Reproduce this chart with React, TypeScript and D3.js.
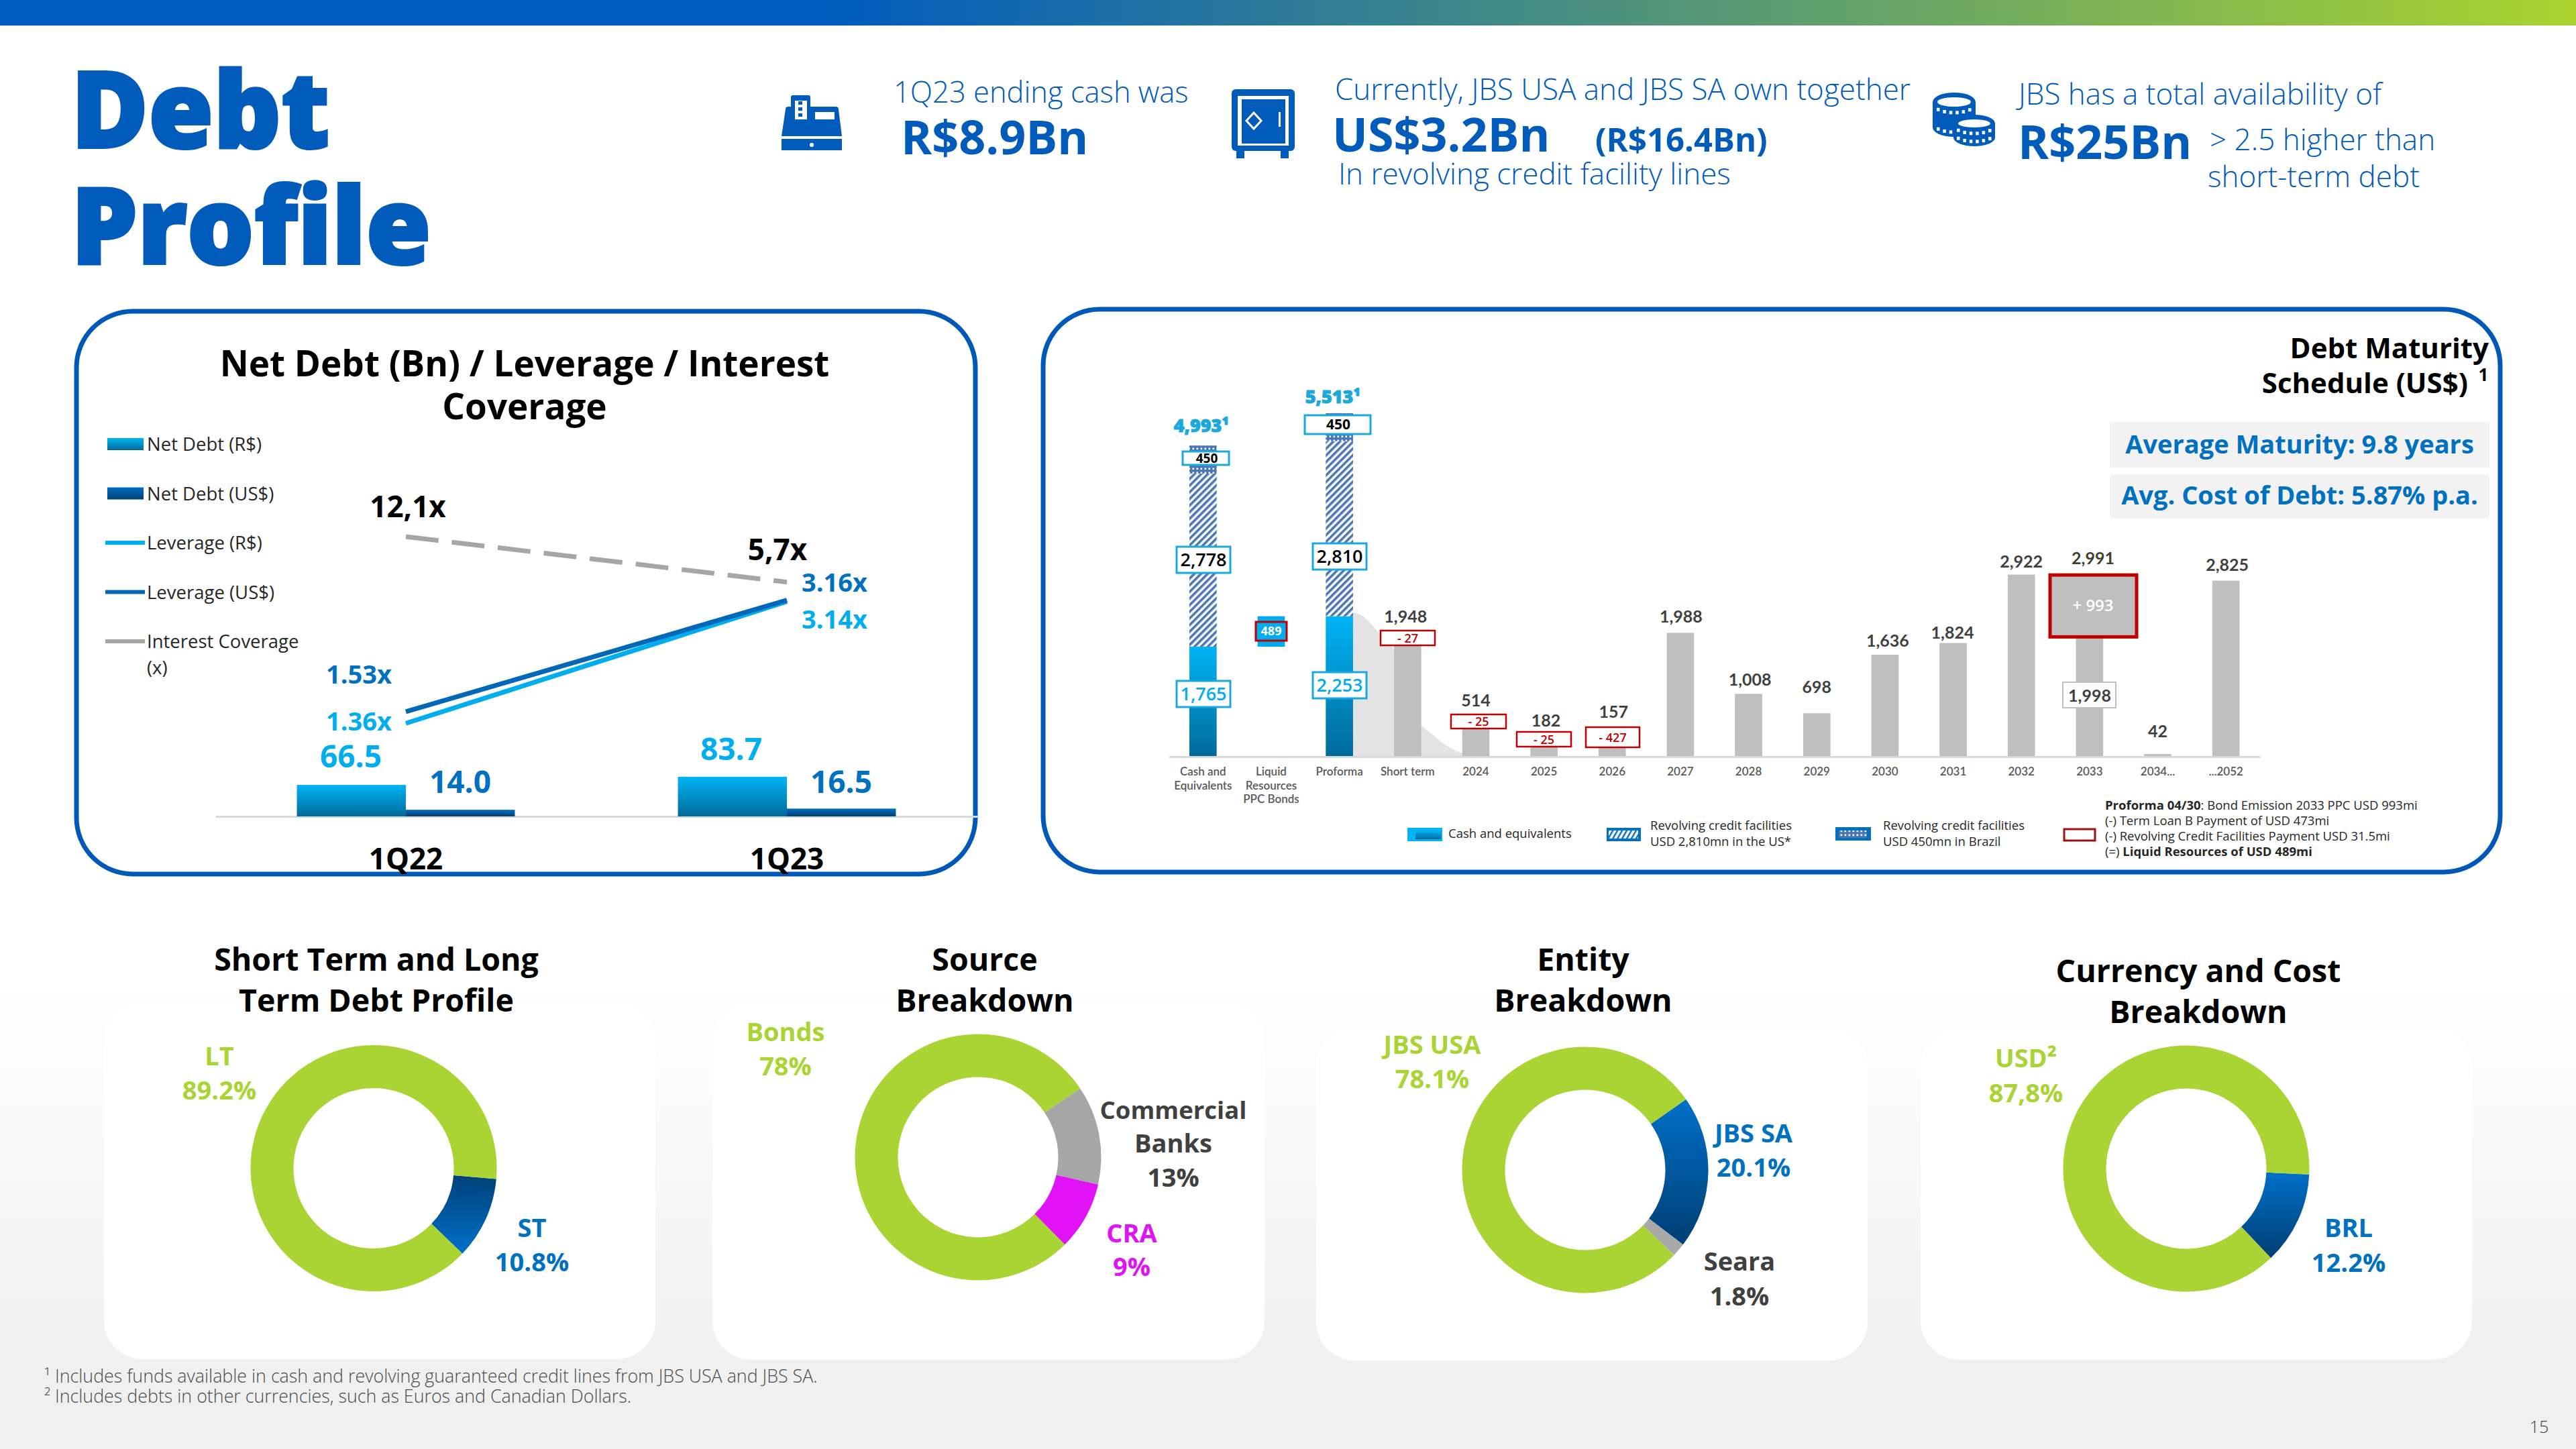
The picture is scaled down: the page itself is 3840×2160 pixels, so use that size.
import * as d3 from "d3";
import { useEffect, useRef } from "react";

// net debt panel
const quarters = ["1Q22", "1Q23"];
const netDebtBrl = [66.5, 83.7];
const netDebtUsd = [14.0, 16.5];
const leverageBrl = [1.36, 3.14];
const leverageUsd = [1.53, 3.16];
const interestCoverage = [12.1, 5.7];
const netDebtLegend = ["Net Debt (R$)", "Net Debt (US$)", "Leverage (R$)", "Leverage (US$)", "Interest Coverage"];

// maturity panel
const maturityCategories = [
    "Cash and\nEquivalents", "Liquid\nResources\nPPC Bonds", "Proforma", "Short term", "2024", "2025", "2026",
    "2027", "2028", "2029", "2030", "2031", "2032", "2033", "2034...", "...2052",
];
const liquidityColumns = ["Cash and\nEquivalents", "Proforma"];
const cashValues = [1765, 2253];
const usRevolverValues = [2778, 2810];
const brRevolverValues = [450, 450];
const liquidityTotals = ["4,993¹", "5,513¹"];
const liquidResources = 489;
const scheduleCategories = ["Short term", "2024", "2025", "2026", "2027", "2028", "2029", "2030", "2031", "2032", "2033", "2034...", "...2052"];
const scheduleValues = [1948, 514, 182, 157, 1988, 1008, 698, 1636, 1824, 2922, 1998, 42, 2825];
const bondEmission = 993;
const adjustments = [-27, -25, -25, -427];
// outline of the grey wedge behind the proforma column: distance in bands from Proforma, value
const wedgeSteps = [0.2, 0.35, 0.64, 0.8, 1.0, 1.4, 1.9, 2.25];
const wedgeValues = [2314, 2250, 1905, 1711, 850, 323, 32, 0];

// donuts
const termLabels = ["ST", "LT"];
const termValues = [10.8, 89.2];
const sourceLabels = ["Commercial Banks", "CRA", "Bonds"];
const sourceValues = [13, 9, 78];
const entityLabels = ["JBS SA", "Seara", "JBS USA"];
const entityValues = [20.1, 1.8, 78.1];
const currencyLabels = ["BRL", "USD"];
const currencyValues = [12.2, 87.8];

const SANS = "'Open Sans', sans-serif";
const LATO = "Lato, sans-serif";
const BLUE = "#005BBB";
const MID_BLUE = "#0070C0";
const CYAN = "#00AEEF";
const GREEN = "#AAD334";
const RED = "#C00000";
const GREY_TEXT = "#404040";

type Sel = d3.Selection<any, unknown, any, any>;

const addText = (
    parent: Sel, str: string, x: number, y: number, size: number, weight: number, color: string,
    anchor = "middle", family = SANS
) => parent.append("text")
    .attr("x", x)
    .attr("y", y)
    .attr("font-size", size)
    .attr("font-weight", weight)
    .attr("font-family", family)
    .attr("fill", color)
    .attr("text-anchor", anchor)
    .text(str);

const addGradient = (defs: Sel, id: string, top: string, bottom: string) => {
    const g = defs.append("linearGradient").attr("id", id).attr("x1", 0).attr("y1", 0).attr("x2", 0).attr("y2", 1);
    g.append("stop").attr("offset", "0%").attr("stop-color", top);
    g.append("stop").attr("offset", "100%").attr("stop-color", bottom);
};

const setDefs = (svg: Sel) => {
    const defs = svg.append("defs");
    addGradient(defs, "cash", "#00B4F5", "#006A9A");
    addGradient(defs, "usd", "#0070C0", "#003F75");
    addGradient(defs, "navyUp", "#00407A", "#0070C8");
    addGradient(defs, "navyDown", "#0070C8", "#003E73");
    addGradient(defs, "page", "#FFFFFF", "#F0F0F0");

    const bar = defs.append("linearGradient").attr("id", "topbar");
    bar.append("stop").attr("offset", "32%").attr("stop-color", "#005BBE");
    bar.append("stop").attr("offset", "100%").attr("stop-color", "#AAD32F");

    const hatch = defs.append("pattern").attr("id", "hatch").attr("width", 7).attr("height", 7)
        .attr("patternUnits", "userSpaceOnUse").attr("patternTransform", "rotate(45)");
    hatch.append("rect").attr("width", 7).attr("height", 7).attr("fill", "#FFFFFF");
    hatch.append("rect").attr("width", 3.6).attr("height", 7).attr("fill", "#4A76B3");

    const dots = defs.append("pattern").attr("id", "dots").attr("width", 6).attr("height", 6)
        .attr("patternUnits", "userSpaceOnUse");
    dots.append("rect").attr("width", 6).attr("height", 6).attr("fill", "#4A76B3");
    dots.append("rect").attr("x", 1.5).attr("y", 1.5).attr("width", 2.6).attr("height", 2.6).attr("fill", "#FFFFFF");

    const swatchHatch = defs.append("pattern").attr("id", "swatchHatch").attr("width", 6).attr("height", 6)
        .attr("patternUnits", "userSpaceOnUse").attr("patternTransform", "rotate(30)");
    swatchHatch.append("rect").attr("width", 6).attr("height", 6).attr("fill", "#FFFFFF");
    swatchHatch.append("rect").attr("width", 2.4).attr("height", 6).attr("fill", "#0070C0");
};

const drawPage = (svg: Sel) => {
    svg.append("rect").attr("width", 3840).attr("height", 2160).attr("fill", "#FFFFFF");
    svg.append("rect").attr("y", 1470).attr("width", 3840).attr("height", 570).attr("fill", "url(#page)");
    svg.append("rect").attr("y", 2040).attr("width", 3840).attr("height", 120).attr("fill", "#F0F0F0");
    svg.append("rect").attr("width", 3840).attr("height", 38).attr("fill", "url(#topbar)");

    addText(svg, "Debt", 106, 220, 157, 800, BLUE, "start").attr("stroke", BLUE).attr("stroke-width", 4);
    addText(svg, "Profile", 106, 393, 157, 800, BLUE, "start").attr("stroke", BLUE).attr("stroke-width", 4);
    addText(svg, "15", 3785, 2136, 25, 300, GREY_TEXT);

    addText(svg, "¹ Includes funds available in cash and revolving guaranteed credit lines from JBS USA and JBS SA.", 66, 2061, 26.8, 300, "#4A4A4A", "start");
    addText(svg, "² Includes debts in other currencies, such as Euros and Canadian Dollars.", 66, 2091, 26.8, 300, "#4A4A4A", "start");
};

const drawHeadline = (svg: Sel) => {
    addText(svg, "1Q23 ending cash was", 1332, 153, 43.5, 300, BLUE, "start");
    addText(svg, "R$8.9Bn", 1343, 230, 70, 700, BLUE, "start");
    addText(svg, "Currently, JBS USA and JBS SA own together", 1990, 149, 44, 300, BLUE, "start");
    addText(svg, "US$3.2Bn", 1986, 226, 70, 700, BLUE, "start");
    addText(svg, "(R$16.4Bn)", 2378, 226, 49, 700, BLUE, "start");
    addText(svg, "In revolving credit facility lines", 1995, 275, 44, 300, BLUE, "start");
    addText(svg, "JBS has a total availability of", 3009, 156, 44, 300, BLUE, "start");
    addText(svg, "R$25Bn", 3008, 237, 70, 700, BLUE, "start");
    addText(svg, "> 2.5 higher than", 3294, 224, 44, 300, BLUE, "start");
    addText(svg, "short-term debt", 3291, 279, 44, 300, BLUE, "start");

    // cash register
    const reg = svg.append("g").attr("fill", BLUE);
    reg.append("rect").attr("x", 1179).attr("y", 142).attr("width", 29).attr("height", 36).attr("rx", 3);
    reg.append("path").attr("d", "M1175 159H1246Q1250 159 1250 163L1255 203H1165L1171 163Q1171 159 1175 159Z");
    reg.append("rect").attr("x", 1165).attr("y", 207).attr("width", 90).attr("height", 17);
    reg.append("rect").attr("x", 1185).attr("y", 150).attr("width", 18).attr("height", 28).attr("fill", "#FFFFFF");
    [153, 162, 171].forEach(y => reg.append("rect").attr("x", 1190).attr("y", y - 2).attr("width", 6).attr("height", 5));
    reg.append("rect").attr("x", 1215).attr("y", 167).attr("width", 29).attr("height", 11).attr("fill", "#FFFFFF");
    reg.append("circle").attr("cx", 1210).attr("cy", 216).attr("r", 3).attr("fill", "#FFFFFF");

    // safe
    const safe = svg.append("g").attr("fill", BLUE);
    safe.append("rect").attr("x", 1836).attr("y", 133).attr("width", 94).attr("height", 92).attr("rx", 6);
    safe.append("rect").attr("x", 1843).attr("y", 222).attr("width", 12).attr("height", 14);
    safe.append("rect").attr("x", 1909).attr("y", 222).attr("width", 12).attr("height", 14);
    safe.append("rect").attr("x", 1845).attr("y", 143).attr("width", 76).attr("height", 74).attr("fill", "#FFFFFF");
    safe.append("rect").attr("x", 1851).attr("y", 148).attr("width", 65).attr("height", 66);
    safe.append("path").attr("d", "M1869 168L1880 180L1869 192L1858 180Z").attr("fill", "none").attr("stroke", "#FFFFFF").attr("stroke-width", 3);
    safe.append("rect").attr("x", 1906).attr("y", 167).attr("width", 3).attr("height", 22).attr("fill", "#FFFFFF");

    // coins
    const coins = svg.append("g");
    const stack = (cx: number, cy: number, rx: number, ry: number, depth: number, teeth: number[]) => {
        coins.append("rect").attr("x", cx - rx).attr("y", cy).attr("width", 2 * rx).attr("height", depth).attr("fill", BLUE);
        coins.append("ellipse").attr("cx", cx).attr("cy", cy + depth).attr("rx", rx).attr("ry", ry).attr("fill", BLUE);
        coins.append("ellipse").attr("cx", cx).attr("cy", cy).attr("rx", rx).attr("ry", ry).attr("fill", BLUE);
        coins.append("ellipse").attr("cx", cx).attr("cy", cy).attr("rx", rx - 7).attr("ry", ry - 7).attr("fill", "#FFFFFF");
        teeth.forEach(off => d3.range(-24, 25, 9.4).forEach(dx => coins.append("rect")
            .attr("x", cx + dx - 2)
            .attr("y", cy + off + ry * Math.sqrt(1 - (dx / rx) ** 2) - 2.5)
            .attr("width", 4.5)
            .attr("height", 5)
            .attr("fill", "#FFFFFF")));
    };
    stack(2913, 152, 32, 14, 38, [2, 31]);
    stack(2943, 184, 31, 13, 21, [2, 14]);
};

const drawPanel = (svg: Sel, x: number, y: number, w: number, h: number) => svg.append("rect")
    .attr("x", x).attr("y", y).attr("width", w).attr("height", h).attr("rx", 84)
    .attr("fill", "#FFFFFF").attr("stroke", "#0059B8").attr("stroke-width", 7);

const drawNetDebt = (svg: Sel) => {
    drawPanel(svg, 114, 464, 1340, 839);
    addText(svg, "Net Debt (Bn) / Leverage / Interest", 782, 561, 53, 700, "#000000");
    addText(svg, "Coverage", 782, 625, 53, 700, "#000000");

    const baseline = 1217;
    const x = d3.scaleBand().domain(quarters).range([321, 1457]).paddingInner(0.428).paddingOuter(0.214);
    const xSeries = d3.scaleBand().domain(["brl", "usd"]).range([0, x.bandwidth()]);
    const yDebt = d3.scaleLinear().domain([0, 100]).range([baseline, baseline - 70.6]);
    const yLeverage = d3.scaleLinear().domain([0, 4]).range([baseline, baseline - 408]);
    const yCoverage = d3.scaleLinear().domain([0, 12.1]).range([928, 800]);
    const center = (q: string) => (x(q) as number) + x.bandwidth() / 2;

    const axis = svg.append("g")
        .attr("transform", `translate(0,${baseline})`)
        .call(d3.axisBottom(x).tickSize(0).tickSizeOuter(0));
    axis.select(".domain").attr("stroke", "#D9D9D9").attr("stroke-width", 3);
    axis.selectAll(".tick text")
        .attr("y", 79).attr("dy", 0)
        .attr("font-size", 44).attr("font-weight", 700).attr("font-family", SANS).attr("fill", "#000000");

    const bars = (values: number[], key: string, fill: string) => svg.append("g")
        .selectAll("rect")
        .data(values)
        .join("rect")
        .attr("x", (_, i) => (x(quarters[i]) as number) + (xSeries(key) as number))
        .attr("y", d => yDebt(d))
        .attr("width", xSeries.bandwidth())
        .attr("height", d => baseline - yDebt(d))
        .attr("fill", fill);
    bars(netDebtBrl, "brl", "url(#cash)");
    bars(netDebtUsd, "usd", "url(#usd)");

    const line = (values: number[], y: d3.ScaleLinear<number, number>, color: string, dash?: string) => {
        const gen = d3.line<number>().x((_, i) => center(quarters[i])).y(d => y(d));
        svg.append("path")
            .attr("d", gen(values))
            .attr("fill", "none")
            .attr("stroke", color)
            .attr("stroke-width", 7)
            .attr("stroke-dasharray", dash ?? null);
    };
    line(interestCoverage, yCoverage, "#A6A6A6", "49 20");
    line(leverageBrl, yLeverage, CYAN);
    line(leverageUsd, yLeverage, "#0067B9");

    // value labels sit by hand around the marks
    const debtFmt = d3.format(".1f");
    const lab1 = [523, 1090];
    const lab2 = [686, 1254];
    const labY1 = [1144, 1133];
    netDebtBrl.forEach((v, i) => addText(svg, debtFmt(v), lab1[i], labY1[i], 46, 700, CYAN));
    netDebtUsd.forEach((v, i) => addText(svg, debtFmt(v), lab2[i], 1182, 46, 700, MID_BLUE));
    const levFmt = d3.format(".2f");
    const levX = [535, 1244];
    const usdY = [1019, 882];
    const brlY = [1089, 937];
    leverageUsd.forEach((v, i) => addText(svg, levFmt(v) + "x", levX[i], usdY[i], 38, 700, MID_BLUE));
    leverageBrl.forEach((v, i) => addText(svg, levFmt(v) + "x", levX[i], brlY[i], 38, 700, CYAN));
    const covX = [608, 1159];
    const covY = [771, 835];
    interestCoverage.forEach((v, i) => addText(svg, debtFmt(v).replace(".", ",") + "x", covX[i], covY[i], 44, 700, "#000000"));

    // legend
    const legendY = d3.scalePoint().domain(netDebtLegend).range([662, 956]);
    netDebtLegend.forEach((name, i) => {
        const cy = legendY(name) as number;
        if (i < 2) {
            svg.append("rect").attr("x", 160).attr("y", cy - 9).attr("width", 54).attr("height", 18)
                .attr("fill", i === 0 ? "url(#cash)" : "url(#usd)");
        } else {
            svg.append("line").attr("x1", 157).attr("x2", 216).attr("y1", cy).attr("y2", cy)
                .attr("stroke-width", 6).attr("stroke", [CYAN, "#0067B9", "#A6A6A6"][i - 2]);
        }
        addText(svg, name, 219, cy + 10, 27.5, 400, "#262626", "start");
    });
    addText(svg, "(x)", 219, 1005, 27.5, 400, "#262626", "start");
};

const drawMaturity = (svg: Sel) => {
    drawPanel(svg, 1555, 461, 2172, 839);

    addText(svg, "Debt Maturity", 3710, 534, 42, 700, "#000000", "end");
    addText(svg, "Schedule (US$)", 3679, 586, 42, 700, "#000000", "end");
    addText(svg, "1", 3702, 568, 26, 700, "#000000");

    [["Average Maturity: 9.8 years", 629, 68, 676], ["Avg. Cost of Debt: 5.87% p.a.", 707, 66, 752]].forEach(([t, y, h, by]) => {
        svg.append("rect").attr("x", 3145).attr("y", y as number).attr("width", 566).attr("height", h as number).attr("fill", "#F2F2F2");
        addText(svg, t as string, 3428, by as number, 38, 700, MID_BLUE);
    });

    const axisY = 1128;
    const x = d3.scaleBand().domain(maturityCategories).range([1742.5, 3369]).paddingInner(0.6).paddingOuter(0.3);
    const y = d3.scaleLinear().domain([0, 3000]).range([axisY, axisY - 278.7]);
    const center = (c: string) => (x(c) as number) + x.bandwidth() / 2;
    const h = (v: number) => axisY - y(v);

    // grey wedge goes under everything
    const wedge = d3.area<number>()
        .x((_, i) => center("Proforma") + wedgeSteps[i] * x.step())
        .y0(axisY)
        .y1(d => y(d))
        .curve(d3.curveMonotoneX);
    svg.append("path").attr("d", wedge(wedgeValues)).attr("fill", "#E3E3E3");

    // stacked liquidity columns
    liquidityColumns.forEach((cat, i) => {
        const bx = x(cat) as number;
        let top = y(cashValues[i]);
        svg.append("rect").attr("x", bx).attr("y", top).attr("width", x.bandwidth()).attr("height", h(cashValues[i])).attr("fill", "url(#cash)");
        top -= h(usRevolverValues[i]);
        svg.append("rect").attr("x", bx).attr("y", top).attr("width", x.bandwidth()).attr("height", h(usRevolverValues[i])).attr("fill", "url(#hatch)");
        top -= h(brRevolverValues[i]);
        svg.append("rect").attr("x", bx).attr("y", top).attr("width", x.bandwidth()).attr("height", h(brRevolverValues[i])).attr("fill", "url(#dots)");
    });
    const liquidCat = maturityCategories[1];
    svg.append("rect")
        .attr("x", x(liquidCat) as number)
        .attr("y", y(cashValues[0] + liquidResources))
        .attr("width", x.bandwidth())
        .attr("height", h(liquidResources))
        .attr("fill", "#00AEEF");

    // schedule bars
    const scheduleData = scheduleCategories.map((c, i) => ({ c, v: scheduleValues[i] }));
    svg.append("g")
        .attr("fill", "#BFBFBF")
        .selectAll("rect")
        .data(scheduleData)
        .join("rect")
        .attr("x", d => x(d.c) as number)
        .attr("y", d => y(d.v))
        .attr("width", x.bandwidth())
        .attr("height", d => h(d.v));

    const axis = svg.append("g")
        .attr("transform", `translate(0,${axisY})`)
        .call(d3.axisBottom(x).tickSize(0).tickSizeOuter(0));
    axis.select(".domain").attr("stroke", "#D9D9D9").attr("stroke-width", 3);
    axis.selectAll<SVGTextElement, string>(".tick text").each(function (d) {
        const t = d3.select(this).text(null).attr("y", 28).attr("dy", 0)
            .attr("font-size", 17).attr("font-weight", 600).attr("font-family", LATO).attr("fill", "#595959");
        d.split("\n").forEach((part, i) => t.append("tspan").attr("x", 0).attr("y", 28 + i * 20.5).text(part));
    });

    // boxed stack labels
    const box = (x0: number, y0: number, w: number, hh: number, stroke: string, fill: string, sw = 3) => svg.append("rect")
        .attr("x", x0).attr("y", y0).attr("width", w).attr("height", hh)
        .attr("fill", fill).attr("stroke", stroke).attr("stroke-width", sw);
    const fmt = d3.format(",");
    const LINE = "#1BA8DC";

    const boxX = [1754, 1957];
    const revolverY = [815, 810];
    const cashY = [1015, 1002];
    usRevolverValues.forEach((v, i) => {
        box(boxX[i], revolverY[i], 80, 39, LINE, "#FFFFFF");
        addText(svg, fmt(v), boxX[i] + 40, revolverY[i] + 29, 27, 600, "#000000");
    });
    cashValues.forEach((v, i) => {
        box(boxX[i], cashY[i], 80, 39, LINE, "#FFFFFF");
        addText(svg, fmt(v), boxX[i] + 40, cashY[i] + 29, 27, 600, CYAN);
    });
    box(1763, 673, 69, 20, LINE, "#FFFFFF");
    addText(svg, fmt(brRevolverValues[0]), 1799, 690, 19, 700, "#000000");
    box(1945, 619, 98, 28, LINE, "#FFFFFF");
    addText(svg, fmt(brRevolverValues[1]), 1995, 640, 21, 700, "#000000");

    const totalX = [1791, 1987];
    const totalY = [644, 601];
    liquidityTotals.forEach((t, i) => addText(svg, t, totalX[i], totalY[i], 27, 800, "#1BA8DC")
        .attr("stroke", "#1BA8DC").attr("stroke-width", 1));

    box(1872, 927, 46, 28, RED, CYAN);
    addText(svg, fmt(liquidResources), 1895, 947, 18, 700, "#FFFFFF");

    // value labels: offsets are where the slide had them
    const labelNudge: Record<string, [number, number]> = {
        "Short term": [-3, 928], "2024": [0, 1053], "2025": [3, 1083], "2026": [2, 1070], "2027": [1, 928],
        "2028": [2, 1022], "2029": [0, 1033], "2030": [4, 964], "2031": [-1, 952], "2032": [0, 846],
        "2034...": [0, 1099], "...2052": [2, 851],
    };
    scheduleData.forEach(d => {
        const n = labelNudge[d.c];
        if (n && d.c !== "2033") addText(svg, fmt(d.v), center(d.c) + n[0], n[1], 25, 700, GREY_TEXT, "middle", LATO);
    });

    // adjustments
    const adjBox: [number, number, number, number][] = [[2058, 940, 81, 22], [2163, 1065, 82, 21], [2261, 1091, 81, 22], [2364, 1084, 80, 30]];
    adjustments.forEach((v, i) => {
        const [bx, by, bw, bh] = adjBox[i];
        box(bx, by, bw, bh, RED, "#FFFFFF", 2.5);
        addText(svg, `- ${Math.abs(v)}`, bx + bw / 2, by + bh / 2 + 6.5, 18, 600, RED);
    });

    // 2033 bond emission stacked on top of the bar
    const barValue = scheduleValues[10];
    const bond = y(barValue + bondEmission);
    box(3056, bond + 7, 129, h(bondEmission), RED, "#BFBFBF", 5);
    addText(svg, `+ ${bondEmission}`, 3120, 911, 24, 600, "#FFFFFF");
    addText(svg, fmt(barValue + bondEmission), 3120, 841, 25, 700, "#3F3F2F", "middle", LATO);
    box(3075, 1017, 79, 38, "#BFBFBF", "#FFFFFF", 2);
    addText(svg, fmt(barValue), 3115, 1046, 25, 700, GREY_TEXT, "middle", LATO);

    // legend
    svg.append("rect").attr("x", 2098).attr("y", 1234).attr("width", 52).attr("height", 20).attr("fill", "#00B4F5");
    svg.append("rect").attr("x", 2110).attr("y", 1238).attr("width", 38).attr("height", 13).attr("fill", "url(#cash)");
    addText(svg, "Cash and equivalents", 2159, 1249, 18.5, 400, "#262626", "start");

    svg.append("rect").attr("x", 2395).attr("y", 1234).attr("width", 51).attr("height", 20).attr("fill", MID_BLUE);
    svg.append("rect").attr("x", 2398).attr("y", 1238).attr("width", 44).attr("height", 12).attr("fill", "url(#swatchHatch)");
    addText(svg, "Revolving credit facilities", 2460, 1237, 18.5, 400, "#262626", "start");
    addText(svg, "USD 2,810mn in the US*", 2460, 1261, 18.5, 400, "#262626", "start");

    svg.append("rect").attr("x", 2736).attr("y", 1233).attr("width", 53).attr("height", 20).attr("fill", MID_BLUE);
    svg.append("rect").attr("x", 2741).attr("y", 1238).attr("width", 42).attr("height", 11).attr("fill", "url(#dots)");
    addText(svg, "Revolving credit facilities", 2807, 1237, 18.5, 400, "#262626", "start");
    addText(svg, "USD 450mn in Brazil", 2807, 1261, 18.5, 400, "#262626", "start");

    svg.append("rect").attr("x", 3077).attr("y", 1236).attr("width", 46).attr("height", 17)
        .attr("fill", "#FFFFFF").attr("stroke", "#A01010").attr("stroke-width", 3);

    const first = addText(svg, "", 3138, 1207, 18.5, 400, "#262626", "start");
    first.append("tspan").attr("font-weight", 700).text("Proforma 04/30");
    first.append("tspan").text(": Bond Emission 2033 PPC USD 993mi");
    addText(svg, "(-) Term Loan B Payment of USD 473mi", 3138, 1230, 18.5, 400, "#262626", "start");
    addText(svg, "(-) Revolving Credit Facilities Payment USD 31.5mi", 3138, 1253, 18.5, 400, "#262626", "start");
    const last = addText(svg, "", 3138, 1276, 18.5, 400, "#262626", "start");
    last.append("tspan").text("(=) ");
    last.append("tspan").attr("font-weight", 700).text("Liquid Resources of USD 489mi");
};

type DonutSpec = {
    values: number[],
    fills: string[],
    cx: number,
    cy: number,
    startDeg: number,
};

const drawDonut = (svg: Sel, spec: DonutSpec) => {
    const pie = d3.pie<number>()
        .sort(null)
        .startAngle((spec.startDeg * Math.PI) / 180)
        .endAngle((spec.startDeg * Math.PI) / 180 + 2 * Math.PI);
    const arc = d3.arc<d3.PieArcDatum<number>>().innerRadius(119.5).outerRadius(183.5);
    svg.append("g")
        .attr("transform", `translate(${spec.cx},${spec.cy})`)
        .selectAll("path")
        .data(pie(spec.values))
        .join("path")
        .attr("d", arc)
        .attr("fill", (_, i) => spec.fills[i]);
};

const drawDonuts = (svg: Sel) => {
    const card = (x0: number, y0: number, x1: number, y1: number) => svg.append("rect")
        .attr("x", x0).attr("y", y0).attr("width", x1 - x0).attr("height", y1 - y0).attr("rx", 58).attr("fill", "#FFFFFF");
    card(155, 1492, 977, 2026);
    card(1062, 1492, 1885, 2027);
    card(1962, 1530, 2784, 2028);
    card(2863, 1530, 3685, 2027);

    const title = (lines: string[], x: number, y: number) => lines.forEach((l, i) =>
        addText(svg, l, x, y + i * 60.5, 46.5, 700, "#000000"));
    title(["Short Term and Long", "Term Debt Profile"], 561, 1447);
    title(["Source", "Breakdown"], 1468, 1447);
    title(["Entity", "Breakdown"], 2360, 1447);
    title(["Currency and Cost", "Breakdown"], 3277, 1464);

    drawDonut(svg, { values: termValues, fills: ["url(#navyUp)", GREEN], cx: 557, cy: 1741.5, startDeg: 95 });
    drawDonut(svg, { values: sourceValues, fills: ["#A6A6A6", "#E013F7", GREEN], cx: 1458, cy: 1725, startDeg: 56 });
    drawDonut(svg, { values: entityValues, fills: ["url(#navyDown)", "#A9A9A9", GREEN], cx: 2363, cy: 1744, startDeg: 55 });
    drawDonut(svg, { values: currencyValues, fills: ["url(#navyDown)", GREEN], cx: 3259, cy: 1742, startDeg: 92.7 });

    const pair = (name: string, value: string, x: number, y: number, color: string, gap = 51) => {
        addText(svg, name, x, y, 38, 700, color);
        addText(svg, value, x, y + gap, 38, 700, color);
    };
    const pct = (v: number, digits = 1) => d3.format(`.${digits}f`)(v) + "%";
    pair(termLabels[1], pct(termValues[1]), 327, 1588, GREEN);
    pair(termLabels[0], pct(termValues[0]), 793, 1844, MID_BLUE);
    pair(sourceLabels[2], pct(sourceValues[2], 0), 1171, 1552, GREEN);
    addText(svg, "Commercial", 1749, 1668, 36.5, 700, GREY_TEXT);
    pair("Banks", pct(sourceValues[0], 0), 1749, 1718, GREY_TEXT);
    pair(sourceLabels[1], pct(sourceValues[1], 0), 1687, 1852, "#E013F7", 50);
    pair(entityLabels[2], pct(entityValues[2]), 2135, 1571, GREEN);
    pair(entityLabels[0], pct(entityValues[0]), 2614, 1703, MID_BLUE);
    pair(entityLabels[1], pct(entityValues[1]), 2593, 1894, GREY_TEXT, 52);
    pair("USD²", pct(currencyValues[1]).replace(".", ","), 3020, 1591, GREEN, 52);
    pair(currencyLabels[0], pct(currencyValues[0]), 3501, 1844, MID_BLUE, 52);
};

const App = () => {
    const ref = useRef<SVGSVGElement>(null);

    useEffect(() => {
        const svg = d3.select(ref.current);
        svg.selectAll("*").remove();
        setDefs(svg);
        drawPage(svg);
        drawHeadline(svg);
        drawNetDebt(svg);
        drawMaturity(svg);
        drawDonuts(svg);
    }, []);

    return <svg ref={ref} width={3840} height={2160} style={{ position: "absolute", left: 0, top: 0, display: "block" }} />;
};

export default App;
